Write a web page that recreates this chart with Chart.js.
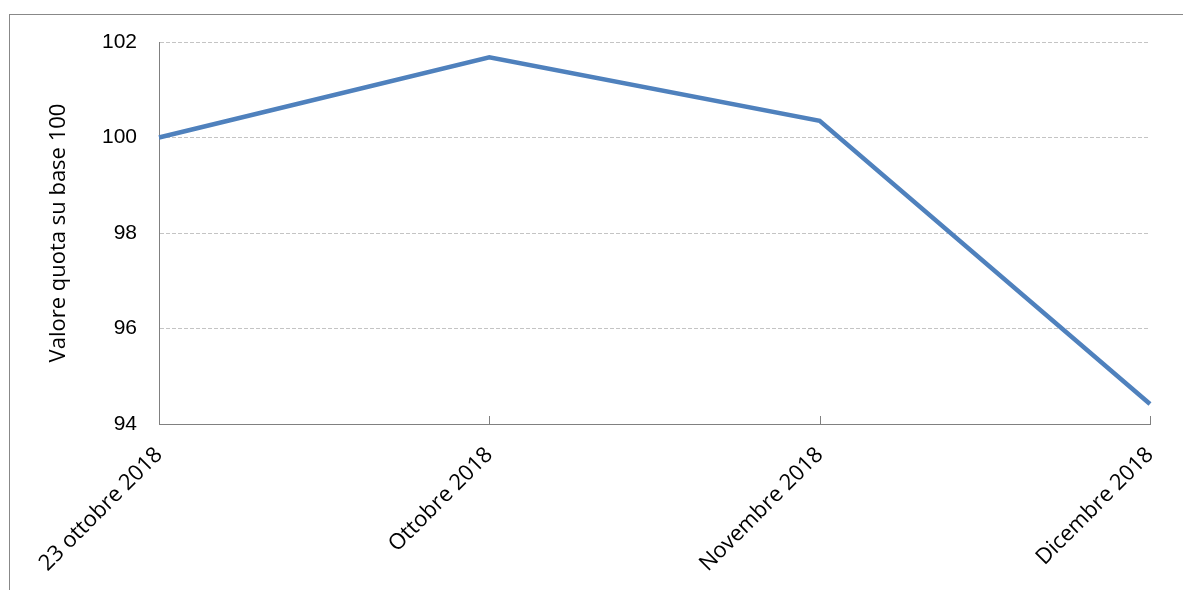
<!DOCTYPE html>
<html>
<head>
<meta charset="utf-8">
<script src="https://cdn.jsdelivr.net/npm/chart.js@4/dist/chart.umd.min.js"></script>
<style>
    html, body { margin: 0; padding: 0; background: #fff; overflow: hidden; }
    #wrap { position: relative; width: 1183px; height: 590px; }
    #frame { position: absolute; left: 9px; top: 14px; width: 1200px; height: 600px; border: 1px solid #888; box-sizing: border-box; }
    canvas { position: absolute; left: 0; top: 0; }
</style>
</head>
<body>
<div id="wrap">
    <div id="frame"></div>
    <canvas id="chart" width="1183" height="590"></canvas>
</div>
<script>
const categories = ['23 ottobre 2018', 'Ottobre 2018', 'Novembre 2018', 'Dicembre 2018'];
const quotaValues = [100, 101.68, 100.35, 94.42];
const yTicks = [94, 96, 98, 100, 102];

const axisColor = '#808080';

// small tick marks pointing up into the plot from the x axis
const innerTicks = {
    id: 'innerTicks',
    afterDatasetsDraw(chart) {
        const { ctx, scales: { x } } = chart;
        ctx.save();
        ctx.strokeStyle = axisColor;
        ctx.lineWidth = 1;
        x.ticks.forEach((t, i) => {
            const px = Math.round(x.getPixelForTick(i)) + 0.5;
            ctx.beginPath();
            ctx.moveTo(px, x.top - 8);
            ctx.lineTo(px, x.top);
            ctx.stroke();
        });
        ctx.restore();
    },
};

new Chart(document.getElementById('chart'), {
    type: 'line',
    data: {
        labels: categories,
        datasets: [{
            data: quotaValues,
            borderColor: '#4F81BD',
            borderWidth: 4.5,
            pointRadius: 0,
            tension: 0,
            fill: false,
        }],
    },
    options: {
        responsive: false,
        animation: false,
        layout: { padding: { left: 0, top: 42, right: 33, bottom: 0 } },
        plugins: {
            legend: { display: false },
            tooltip: { enabled: false },
        },
        scales: {
            x: {
                offset: false,
                afterFit: (scale) => {
                    scale.height = 166;
                    scale.paddingLeft = 0;
                    scale.paddingRight = 0;
                },
                grid: { display: false, drawTicks: false },
                border: { display: true, color: axisColor, width: 1 },
                ticks: {
                    autoSkip: false,
                    minRotation: 45,
                    maxRotation: 45,
                    padding: 18,
                    color: '#000',
                    font: { family: 'Open Sans', size: 22 },
                },
            },
            y: {
                min: 94,
                max: 102,
                afterFit: (scale) => { scale.width = 159; },
                afterBuildTicks: (scale) => { scale.ticks = yTicks.map(v => ({ value: v })); },
                grid: { color: '#c4c4c4', lineWidth: 1, drawTicks: false },
                border: { display: true, color: axisColor, width: 1, dash: [4, 2] },
                ticks: {
                    padding: 22,
                    color: '#000',
                    font: { family: 'Liberation Sans', size: 21 },
                },
                title: {
                    display: true,
                    text: 'Valore quota su base 100',
                    color: '#000',
                    padding: { top: 46, bottom: 0 },
                    font: { family: 'Open Sans', size: 22 },
                },
            },
        },
    },
    plugins: [innerTicks],
});
</script>
</body>
</html>
